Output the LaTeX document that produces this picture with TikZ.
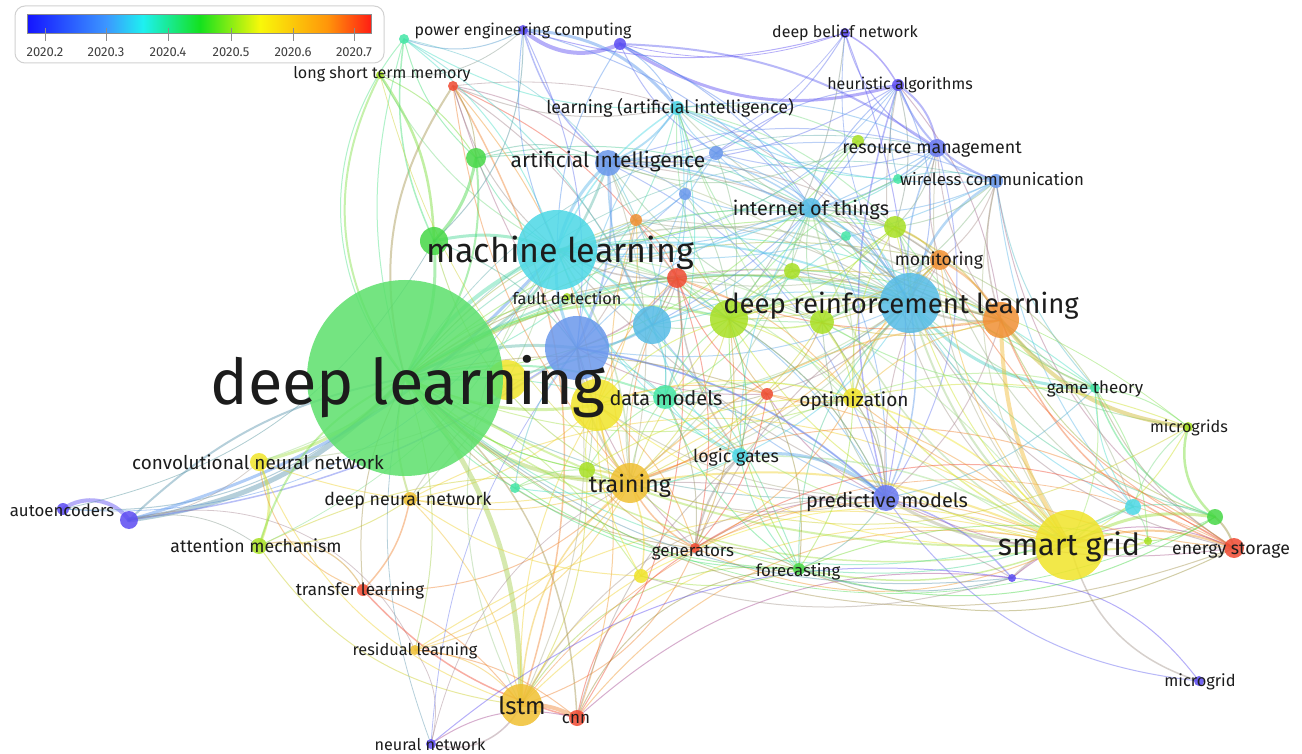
\documentclass[tikz,border=0pt]{standalone}
\usepackage{fontspec}
\setmainfont{Fira Sans}
\definecolor{kP}{HTML}{5C4CF2}
\definecolor{kPB}{HTML}{6878F0}
\definecolor{kB}{HTML}{6A98EC}
\definecolor{kLB}{HTML}{56BCE6}
\definecolor{kC}{HTML}{4CD8E6}
\definecolor{kCG}{HTML}{44E6A6}
\definecolor{kG}{HTML}{46D846}
\definecolor{kYG}{HTML}{A8E024}
\definecolor{kY}{HTML}{F0E42A}
\definecolor{kYO}{HTML}{F0C032}
\definecolor{kO}{HTML}{F09034}
\definecolor{kR}{HTML}{F04A32}
\definecolor{kDL}{HTML}{5CE06C}
\definecolor{ktxt}{HTML}{1C1C1C}
\pgfdeclarelayer{paper}
\pgfdeclarelayer{bg}
\pgfdeclarelayer{fg}
\pgfsetlayers{paper,bg,main,fg}
\tikzset{
  kwnode/.style={circle, inner sep=0pt, draw=none, fill opacity=0.85},
  kwlbl/.style={anchor=base, inner sep=0pt, text=ktxt},
  kwedge/.style={draw opacity=0.45, line cap=round}
}
\newcommand\nd[5]{\colorlet{c#1}{#5}\node[kwnode, fill=#5, minimum size=#4*2pt] (#1) at (#2,#3) {};}
\newcommand\lb[5]{\node[kwlbl, font=\fontsize{#4}{#4}\selectfont] (#1-l) at (#2,#3) {#5};}
\newcommand\lk[4]{\draw[kwedge, line width=#3pt, draw=c#1!50!c#2] (#1.center) to[bend left={1.6*(#4)}] (#2.center);}
\begin{document}
\begin{tikzpicture}[x=1pt,y=-1pt]
\useasboundingbox (0,0) rectangle (1302,754);
\begin{pgfonlayer}{paper}
\fill[white] (0,0) rectangle (1302,754);
\end{pgfonlayer}
% ---------- nodes ----------
\nd{u21}{507}{380}{20}{kY}
\nd{dl}{405}{378}{98}{kDL}
\nd{ml}{557}{250}{40}{kC}
\nd{drl}{910}{303}{30}{kLB}
\nd{sg}{1070}{545}{35}{kY}
\nd{ai}{608}{163}{13}{kB}
\nd{iot}{811}{208}{10}{kLB}
\nd{dm}{665}{397}{12}{kCG}
\nd{opt}{853}{398}{10}{kY}
\nd{tr}{630}{483}{20}{kYO}
\nd{pm}{886}{498}{13}{kPB}
\nd{lg}{740}{456}{8}{kC}
\nd{fc}{799}{569}{6}{kG}
\nd{gen}{695}{548}{5}{kR}
\nd{mon}{940}{260}{10}{kO}
\nd{fd}{567}{297}{4}{kYG}
\nd{cnnw}{259}{462}{9}{kY}
\nd{dnn}{410}{499}{7}{kYO}
\nd{att}{259}{546}{8}{kYG}
\nd{tl}{363}{590}{6}{kR}
\nd{rl}{415}{650}{5}{kYO}
\nd{lstm}{521}{705}{21}{kYO}
\nd{cnn}{577}{718}{8}{kR}
\nd{nn}{431}{744}{5}{kP}
\nd{ae}{63}{509}{6}{kP}
\nd{es}{1234}{548}{10}{kR}
\nd{mgs}{1188}{427}{5}{kYG}
\nd{gt}{1095}{388}{5}{kCG}
\nd{mg}{1199}{681}{5}{kP}
\nd{wc}{996}{181}{7}{kB}
\nd{rm}{937}{148}{9}{kPB}
\nd{ha}{898}{85}{6}{kP}
\nd{dbn}{845}{33}{5}{kP}
\nd{pec}{523}{30}{5}{kP}
\nd{lai}{677}{108}{7}{kC}
\nd{lstmem}{380}{75}{4}{kYG}
\nd{u1}{404}{39}{5}{kCG}
\nd{u2}{620}{44}{6}{kP}
\nd{u3}{453}{86}{5}{kR}
\nd{u4}{476}{158}{10}{kG}
\nd{u5}{716}{153}{7}{kB}
\nd{u6}{685}{194}{6}{kB}
\nd{u7}{636}{220}{6}{kO}
\nd{u8}{434}{241}{14}{kG}
\nd{u9}{677}{278}{10}{kR}
\nd{u10}{652}{325}{19}{kLB}
\nd{u11}{577}{348}{32}{kB}
\nd{u12}{729}{319}{19}{kYG}
\nd{u13}{822}{322}{12}{kYG}
\nd{u14}{792}{271}{8}{kYG}
\nd{u15}{846}{236}{5}{kCG}
\nd{u16}{895}{227}{11}{kYG}
\nd{u17}{898}{179}{5}{kCG}
\nd{u18}{858}{141}{6}{kYG}
\nd{u19}{1001}{320}{18}{kO}
\nd{u20}{597}{405}{26}{kY}
\nd{u22}{587}{470}{8}{kYG}
\nd{u23}{515}{488}{5}{kCG}
\nd{u24}{641}{576}{7}{kY}
\nd{u25}{767}{394}{6}{kR}
\nd{u26}{1133}{507}{8}{kC}
\nd{u27}{1215}{517}{8}{kG}
\nd{u28}{1148}{541}{4}{kYG}
\nd{u29}{1012}{578}{4}{kP}
\nd{u30}{129}{520}{9}{kP}
% ---------- edges ----------
\begin{pgfonlayer}{bg}
\lk{ae}{u30}{4}{28}
\lk{ae}{ml}{0.8}{-20}
\lk{ae}{u8}{0.8}{-15}
\lk{ae}{dl}{1}{-15}
\lk{u30}{dl}{5}{-12}
\lk{u30}{dl}{2}{10}
\lk{u30}{ml}{3}{-10}
\lk{u30}{u11}{1.5}{-8}
\lk{u30}{rl}{0.8}{25}
\lk{u30}{cnnw}{0.8}{-10}
\lk{u30}{att}{0.8}{15}
\lk{cnnw}{dl}{3}{-10}
\lk{cnnw}{att}{2.5}{15}
\lk{cnnw}{tl}{1}{-20}
\lk{cnnw}{ml}{1}{-10}
\lk{cnnw}{u11}{1}{-10}
\lk{cnnw}{tr}{1}{-10}
\lk{cnnw}{lstm}{1}{-15}
\lk{att}{dl}{2}{15}
\lk{att}{tl}{1.2}{25}
\lk{att}{dnn}{1}{-10}
\lk{att}{lstm}{1}{-15}
\lk{att}{tr}{1}{10}
\lk{att}{ml}{0.8}{-12}
\lk{tl}{dnn}{1.5}{-10}
\lk{tl}{dl}{1}{10}
\lk{tl}{cnn}{1.5}{-10}
\lk{tl}{lstm}{1}{10}
\lk{tl}{tr}{1}{-15}
\lk{dnn}{dl}{2}{10}
\lk{dnn}{lstm}{1}{10}
\lk{dnn}{tr}{1}{-10}
\lk{dnn}{u20}{1}{-10}
\lk{dnn}{u11}{1}{10}
\lk{dnn}{ml}{1}{-10}
\lk{dnn}{sg}{1}{20}
\lk{rl}{dl}{1}{-10}
\lk{rl}{lstm}{1}{15}
\lk{rl}{sg}{1}{15}
\lk{rl}{tr}{1}{-10}
\lk{rl}{cnn}{1}{10}
\lk{nn}{dl}{0.8}{10}
\lk{nn}{lstm}{1.5}{-25}
\lk{nn}{rl}{0.8}{-15}
\lk{nn}{u11}{0.8}{10}
\lk{nn}{cnn}{1}{15}
\lk{lstm}{dl}{5}{-12}
\lk{lstm}{cnn}{4}{10}
\lk{lstm}{tr}{1.5}{15}
\lk{lstm}{sg}{1}{18}
\lk{lstm}{gen}{1}{-15}
\lk{lstm}{ml}{1}{20}
\lk{lstm}{u11}{1}{-10}
\lk{lstm}{u20}{1}{10}
\lk{lstm}{u22}{1}{-10}
\lk{lstm}{u24}{1}{10}
\lk{lstm}{fc}{1}{20}
\lk{lstm}{pm}{1}{20}
\lk{lstm}{es}{0.8}{25}
\lk{lstm}{u3}{1.5}{-15}
\lk{cnn}{gen}{1}{15}
\lk{cnn}{u9}{1}{-12}
\lk{cnn}{dl}{1.5}{-15}
\lk{cnn}{u29}{1}{15}
\lk{cnn}{sg}{1}{20}
\lk{cnn}{u20}{1}{-10}
\lk{cnn}{fc}{1}{20}
\lk{cnn}{lg}{1}{10}
\lk{dl}{ml}{4}{10}
\lk{dl}{u8}{3}{-10}
\lk{dl}{u4}{2}{-15}
\lk{dl}{tr}{4}{-15}
\lk{dl}{u11}{3}{10}
\lk{dl}{u10}{2}{-10}
\lk{dl}{u12}{2}{15}
\lk{dl}{u20}{3}{-10}
\lk{dl}{dm}{2}{10}
\lk{dl}{ai}{2.5}{-15}
\lk{dl}{drl}{2}{15}
\lk{dl}{sg}{1.5}{-15}
\lk{dl}{pm}{1}{-10}
\lk{dl}{lg}{1}{10}
\lk{dl}{opt}{1}{-12}
\lk{dl}{iot}{1}{15}
\lk{dl}{u9}{1}{10}
\lk{dl}{lstmem}{2}{20}
\lk{dl}{fd}{1}{10}
\lk{dl}{u22}{1}{-10}
\lk{dl}{gen}{1}{-15}
\lk{dl}{fc}{1}{-15}
\lk{dl}{mon}{1}{15}
\lk{dl}{lai}{1}{-20}
\lk{dl}{u3}{2}{15}
\lk{dl}{es}{1}{-20}
\lk{dl}{gt}{1}{20}
\lk{dl}{mgs}{0.8}{22}
\lk{dl}{wc}{0.8}{20}
\lk{dl}{rm}{0.8}{22}
\lk{dl}{u16}{1}{15}
\lk{dl}{u13}{1}{15}
\lk{dl}{u19}{1.5}{15}
\lk{dl}{u26}{1}{-20}
\lk{dl}{u27}{0.8}{-22}
\lk{dl}{u1}{1}{25}
\lk{u8}{lstmem}{2.5}{-10}
\lk{u8}{u1}{1.5}{10}
\lk{u8}{ml}{3}{10}
\lk{u8}{u4}{3}{-10}
\lk{u8}{tr}{1}{-15}
\lk{u8}{u11}{1}{10}
\lk{u4}{ml}{1}{-10}
\lk{u4}{ai}{1}{15}
\lk{u4}{u3}{1}{-10}
\lk{u4}{drl}{1}{15}
\lk{u4}{iot}{1}{12}
\lk{u3}{ml}{1}{-10}
\lk{u3}{u9}{1}{10}
\lk{u3}{tr}{1}{-10}
\lk{u3}{u20}{1}{10}
\lk{u3}{drl}{0.8}{20}
\lk{u3}{lai}{1}{-10}
\lk{u3}{ai}{1}{10}
\lk{u3}{u10}{1}{10}
\lk{u3}{u11}{1}{-5}
\lk{u1}{pec}{1}{-15}
\lk{u1}{ml}{1}{10}
\lk{u1}{dl}{1}{-10}
\lk{u1}{u4}{1}{-10}
\lk{u1}{ai}{0.8}{12}
\lk{u1}{lai}{1}{-10}
\lk{u1}{u10}{1}{10}
\lk{lstmem}{ml}{1}{-10}
\lk{lstmem}{u4}{1}{10}
\lk{lstmem}{tr}{0.8}{-10}
\lk{pec}{u2}{4}{-20}
\lk{pec}{lai}{3}{15}
\lk{pec}{ai}{1.5}{-10}
\lk{pec}{u11}{1}{10}
\lk{pec}{u8}{1}{15}
\lk{pec}{lstmem}{0.8}{15}
\lk{pec}{dbn}{1}{-10}
\lk{pec}{ml}{1}{-10}
\lk{pec}{iot}{1}{10}
\lk{u2}{ha}{3}{-15}
\lk{u2}{rm}{2}{10}
\lk{u2}{u5}{1}{-10}
\lk{u2}{lai}{1}{10}
\lk{u2}{dbn}{0.8}{-10}
\lk{u2}{iot}{1}{10}
\lk{u2}{ml}{1}{-10}
\lk{u2}{drl}{1}{10}
\lk{dbn}{ha}{1.5}{10}
\lk{dbn}{rm}{1}{-15}
\lk{dbn}{u12}{1}{10}
\lk{dbn}{ai}{0.8}{15}
\lk{dbn}{drl}{0.8}{-12}
\lk{dbn}{u5}{1}{10}
\lk{dbn}{pm}{1}{10}
\lk{ha}{rm}{2}{15}
\lk{ha}{wc}{2}{-15}
\lk{ha}{u16}{1}{10}
\lk{ha}{u10}{1}{10}
\lk{ha}{iot}{1}{-10}
\lk{ha}{drl}{1}{15}
\lk{ha}{pm}{1.5}{-10}
\lk{ha}{ml}{0.8}{15}
\lk{ha}{u17}{1}{-10}
\lk{ha}{u19}{1}{10}
\lk{ha}{sg}{1}{-20}
\lk{ha}{ai}{1}{10}
\lk{ha}{u5}{1}{-10}
\lk{rm}{wc}{2}{-15}
\lk{rm}{iot}{1.5}{10}
\lk{rm}{drl}{1.5}{-10}
\lk{rm}{u18}{1}{10}
\lk{rm}{pm}{1}{15}
\lk{rm}{ml}{1}{10}
\lk{rm}{ai}{1}{-10}
\lk{rm}{u16}{1}{10}
\lk{rm}{u19}{1}{-10}
\lk{rm}{sg}{1}{-15}
\lk{rm}{u17}{1}{10}
\lk{rm}{mon}{1}{-10}
\lk{wc}{drl}{2.5}{-15}
\lk{wc}{iot}{1}{10}
\lk{wc}{u17}{1}{-10}
\lk{wc}{sg}{1}{-15}
\lk{wc}{mon}{1}{10}
\lk{wc}{ml}{1}{10}
\lk{wc}{u16}{1}{10}
\lk{wc}{u19}{1.5}{-10}
\lk{wc}{gt}{1}{-10}
\lk{wc}{u26}{1}{-10}
\lk{wc}{es}{1}{-15}
\lk{wc}{u13}{1}{10}
\lk{lai}{ai}{2}{10}
\lk{lai}{ml}{1.5}{-10}
\lk{lai}{iot}{1}{10}
\lk{lai}{u5}{1}{-10}
\lk{lai}{u6}{1}{10}
\lk{lai}{drl}{1.5}{15}
\lk{lai}{u11}{1}{-10}
\lk{lai}{wc}{1}{-10}
\lk{lai}{dm}{1}{10}
\lk{lai}{u10}{1}{10}
\lk{lai}{u12}{1}{-10}
\lk{lai}{u18}{1}{10}
\lk{lai}{u17}{1}{-10}
\lk{lai}{rm}{1}{10}
\lk{lai}{mon}{1}{-10}
\lk{lai}{sg}{1}{-15}
\lk{lai}{u16}{1}{10}
\lk{lai}{u13}{1}{-10}
\lk{ai}{ml}{3}{-10}
\lk{ai}{u11}{2}{10}
\lk{ai}{iot}{1.5}{15}
\lk{ai}{drl}{1.5}{15}
\lk{ai}{u5}{1}{-10}
\lk{ai}{u6}{1}{10}
\lk{ai}{u10}{1.5}{-10}
\lk{ai}{tr}{1}{10}
\lk{ai}{sg}{1}{15}
\lk{ai}{mon}{1}{12}
\lk{ai}{u12}{1}{-10}
\lk{ai}{u19}{1}{10}
\lk{ai}{u13}{1}{-10}
\lk{ai}{pm}{1}{15}
\lk{ai}{dm}{1}{10}
\lk{u5}{iot}{1}{-10}
\lk{u5}{ml}{1}{10}
\lk{u5}{drl}{1}{10}
\lk{u5}{u10}{1}{-10}
\lk{u5}{u12}{1}{10}
\lk{u5}{rm}{1}{-10}
\lk{u5}{wc}{1}{10}
\lk{u6}{ml}{1}{10}
\lk{u6}{iot}{1}{-10}
\lk{u6}{u11}{1}{-10}
\lk{u6}{u10}{1}{10}
\lk{u6}{drl}{1}{-10}
\lk{u6}{u12}{1}{10}
\lk{u7}{ml}{1}{10}
\lk{u7}{dl}{1}{-10}
\lk{u7}{drl}{1}{10}
\lk{u7}{u9}{1}{10}
\lk{u7}{iot}{1}{-10}
\lk{u7}{u11}{1}{10}
\lk{u7}{tr}{1}{-10}
\lk{u7}{u12}{1}{10}
\lk{u7}{u20}{1}{10}
\lk{ml}{u10}{2}{10}
\lk{ml}{u11}{3}{-10}
\lk{ml}{u12}{1.5}{10}
\lk{ml}{drl}{2}{10}
\lk{ml}{iot}{1.5}{-10}
\lk{ml}{u9}{1.5}{-10}
\lk{ml}{tr}{1.5}{10}
\lk{ml}{dm}{1}{-10}
\lk{ml}{pm}{1}{15}
\lk{ml}{sg}{1}{15}
\lk{ml}{mon}{1}{-10}
\lk{ml}{lg}{1}{-12}
\lk{ml}{u19}{1.5}{15}
\lk{ml}{es}{1}{-15}
\lk{ml}{gt}{1}{15}
\lk{ml}{u16}{1}{10}
\lk{ml}{opt}{1}{10}
\lk{ml}{fc}{1}{10}
\lk{ml}{u13}{1}{-10}
\lk{u9}{u10}{1}{10}
\lk{u9}{u12}{1}{-10}
\lk{u9}{u11}{1.5}{10}
\lk{u9}{tr}{1}{-10}
\lk{u9}{gen}{1}{10}
\lk{u9}{lg}{1.5}{-10}
\lk{u9}{drl}{1}{10}
\lk{u9}{u20}{1}{-10}
\lk{u9}{opt}{1}{10}
\lk{u9}{dm}{1}{10}
\lk{u10}{u11}{2}{10}
\lk{u10}{u12}{1}{-10}
\lk{u10}{dm}{1}{10}
\lk{u10}{tr}{1}{-10}
\lk{u10}{drl}{1}{10}
\lk{u10}{pm}{1}{-10}
\lk{u11}{u20}{2}{-10}
\lk{u11}{dm}{1}{10}
\lk{u11}{tr}{2}{-10}
\lk{u11}{pm}{1}{10}
\lk{u11}{drl}{1}{-10}
\lk{u12}{drl}{2}{10}
\lk{u12}{u13}{1.5}{-10}
\lk{u12}{u14}{1}{10}
\lk{u12}{dm}{1}{-10}
\lk{u12}{opt}{1}{10}
\lk{u12}{sg}{1}{-15}
\lk{u12}{tr}{1}{10}
\lk{u12}{pm}{1}{10}
\lk{u12}{fc}{1}{-10}
\lk{u12}{u19}{1}{10}
\lk{u12}{lg}{1}{10}
\lk{u12}{u20}{1}{-10}
\lk{u13}{drl}{2}{10}
\lk{u13}{u14}{1}{-10}
\lk{u13}{opt}{1}{10}
\lk{u13}{sg}{1.5}{-10}
\lk{u13}{pm}{1}{10}
\lk{u13}{u19}{1}{-10}
\lk{u13}{u16}{1}{10}
\lk{u13}{tr}{1}{10}
\lk{u13}{gt}{1}{-10}
\lk{u14}{iot}{1}{10}
\lk{u14}{u16}{1}{-10}
\lk{u14}{dm}{1}{10}
\lk{u14}{u19}{1}{10}
\lk{u14}{tr}{1}{-10}
\lk{u16}{drl}{1.5}{10}
\lk{u16}{iot}{1}{-10}
\lk{u16}{mon}{1.5}{10}
\lk{u16}{sg}{1}{-10}
\lk{u16}{u12}{1}{10}
\lk{u16}{u19}{1.5}{10}
\lk{u16}{opt}{1}{-10}
\lk{u16}{gt}{1}{-10}
\lk{u15}{iot}{1}{10}
\lk{u15}{drl}{1}{-10}
\lk{u15}{u10}{1}{10}
\lk{u17}{iot}{1}{10}
\lk{u17}{u12}{1}{-10}
\lk{u18}{ai}{1}{15}
\lk{u18}{iot}{1}{-10}
\lk{u18}{ml}{1}{10}
\lk{u18}{dl}{1}{15}
\lk{iot}{u12}{1.5}{10}
\lk{iot}{u13}{1}{-10}
\lk{iot}{u10}{1}{10}
\lk{iot}{u11}{1}{-10}
\lk{iot}{sg}{1.5}{-15}
\lk{iot}{pm}{1}{10}
\lk{iot}{u19}{1}{-10}
\lk{iot}{opt}{1}{10}
\lk{iot}{tr}{1}{10}
\lk{drl}{mon}{2}{10}
\lk{drl}{u19}{2}{-10}
\lk{drl}{gt}{3}{-15}
\lk{drl}{sg}{2}{-10}
\lk{drl}{pm}{1.5}{10}
\lk{drl}{opt}{1.5}{-10}
\lk{drl}{u25}{1}{10}
\lk{drl}{u26}{1}{-10}
\lk{drl}{es}{1}{-15}
\lk{drl}{tr}{1}{10}
\lk{drl}{iot}{2}{-10}
\lk{drl}{dm}{1}{10}
\lk{drl}{u14}{1}{-10}
\lk{drl}{fc}{1}{-15}
\lk{drl}{lg}{1}{10}
\lk{drl}{u20}{1}{10}
\lk{drl}{gen}{1}{-10}
\lk{drl}{mgs}{1}{-10}
\lk{drl}{u27}{1}{-12}
\lk{mon}{u19}{2}{10}
\lk{mon}{sg}{1}{-10}
\lk{mon}{gt}{1}{10}
\lk{mon}{es}{1}{-10}
\lk{mon}{iot}{1.5}{-10}
\lk{mon}{tr}{1}{10}
\lk{mon}{u13}{1}{10}
\lk{mon}{opt}{1}{-10}
\lk{mon}{u12}{1}{10}
\lk{mon}{pm}{1}{-10}
\lk{mon}{u26}{1}{-10}
\lk{u19}{sg}{4}{-10}
\lk{u19}{mgs}{4}{-14}
\lk{u19}{gt}{1.5}{-10}
\lk{u19}{u27}{1}{-15}
\lk{u19}{pm}{1}{10}
\lk{u19}{opt}{1}{-10}
\lk{u19}{tr}{1.5}{-12}
\lk{u19}{u9}{1}{10}
\lk{u19}{iot}{1.5}{10}
\lk{u19}{u26}{1}{10}
\lk{u19}{es}{1.5}{-15}
\lk{gt}{sg}{1}{10}
\lk{gt}{u26}{1}{-10}
\lk{gt}{u27}{1.5}{-15}
\lk{gt}{es}{1}{-10}
\lk{gt}{mgs}{1}{10}
\lk{gt}{pm}{1}{10}
\lk{gt}{u28}{1}{10}
\lk{gt}{opt}{1}{-10}
\lk{mgs}{u27}{2.5}{-20}
\lk{mgs}{sg}{1}{10}
\lk{mgs}{u26}{1}{-10}
\lk{sg}{u26}{2}{10}
\lk{sg}{u27}{3}{12}
\lk{sg}{u28}{2}{-10}
\lk{sg}{es}{2}{12}
\lk{sg}{u29}{2}{-10}
\lk{sg}{pm}{3}{10}
\lk{sg}{mg}{1.5}{-18}
\lk{sg}{opt}{1.5}{-10}
\lk{sg}{tr}{2}{-10}
\lk{sg}{dm}{1}{10}
\lk{sg}{fc}{1.5}{10}
\lk{sg}{lg}{1.5}{-10}
\lk{sg}{dl}{2}{10}
\lk{sg}{u20}{1}{12}
\lk{sg}{gen}{1}{15}
\lk{u27}{es}{2}{10}
\lk{u27}{u26}{1}{-10}
\lk{u26}{u28}{1}{10}
\lk{u28}{u27}{1}{-10}
\lk{es}{u29}{1}{-20}
\lk{es}{pm}{1}{10}
\lk{u29}{pm}{1.5}{-10}
\lk{u29}{fc}{1}{10}
\lk{u29}{tr}{1}{-10}
\lk{u29}{u24}{1}{10}
\lk{u29}{nn}{1}{-15}
\lk{u29}{mg}{1}{15}
\lk{u29}{dl}{1}{15}
\lk{pm}{lg}{3}{-15}
\lk{pm}{fc}{1}{10}
\lk{pm}{opt}{1}{-10}
\lk{pm}{tr}{1}{10}
\lk{pm}{dm}{1}{-10}
\lk{pm}{u25}{1}{10}
\lk{pm}{u11}{2}{-10}
\lk{pm}{u20}{1}{10}
\lk{pm}{u12}{1}{-10}
\lk{pm}{u13}{1}{10}
\lk{pm}{mg}{1}{-15}
\lk{lg}{tr}{1}{10}
\lk{lg}{gen}{2}{-10}
\lk{lg}{dm}{1}{10}
\lk{lg}{fc}{1}{-10}
\lk{lg}{u10}{1}{10}
\lk{lg}{u12}{1}{-10}
\lk{lg}{iot}{1}{10}
\lk{gen}{tr}{1.5}{10}
\lk{gen}{u24}{1}{-10}
\lk{gen}{fc}{1}{10}
\lk{gen}{u20}{1}{-10}
\lk{gen}{es}{1}{20}
\lk{gen}{sg}{1}{15}
\lk{gen}{u25}{1}{-10}
\lk{gen}{u22}{1}{10}
\lk{gen}{u11}{1}{10}
\lk{gen}{u12}{1}{-10}
\lk{gen}{pm}{1}{10}
\lk{u25}{dm}{1}{10}
\lk{u25}{opt}{1}{-10}
\lk{u25}{tr}{1}{10}
\lk{u25}{u20}{1}{-10}
\lk{u25}{u11}{1}{10}
\lk{u25}{dl}{1}{-10}
\lk{u25}{sg}{1}{10}
\lk{u25}{u12}{1}{10}
\lk{u25}{u13}{1}{-10}
\lk{u25}{u9}{1}{10}
\lk{u25}{lg}{1}{-10}
\lk{u25}{fc}{1}{10}
\lk{tr}{u20}{2}{10}
\lk{tr}{u22}{2}{-10}
\lk{tr}{u24}{1.5}{10}
\lk{tr}{u23}{1}{-10}
\lk{tr}{dm}{1}{10}
\lk{tr}{fc}{1}{-10}
\lk{tr}{es}{1}{18}
\lk{tr}{mgs}{1}{-15}
\lk{tr}{rl}{1}{15}
\lk{tr}{nn}{0.8}{-15}
\lk{u22}{dl}{1}{10}
\lk{u22}{u23}{1}{-10}
\lk{u22}{u20}{1}{10}
\lk{u22}{u11}{1}{-10}
\lk{u23}{dl}{1}{10}
\lk{u23}{lg}{1}{-10}
\lk{u23}{u11}{1}{10}
\lk{u23}{fc}{1}{-10}
\lk{u24}{u20}{1}{10}
\lk{u24}{fc}{1}{-10}
\lk{u24}{dnn}{1}{10}
\lk{u24}{dl}{1}{-10}
\lk{u24}{sg}{1}{15}
\lk{dm}{opt}{1}{10}
\lk{dm}{u20}{1}{-10}
\lk{dm}{lg}{1}{10}
\lk{dm}{fc}{1}{-10}
\lk{dm}{gen}{1}{10}
\lk{dm}{u22}{1}{-10}
\lk{opt}{fc}{1}{10}
\lk{opt}{tr}{1}{-10}
\lk{opt}{pm}{1}{10}
\lk{opt}{lg}{1}{-10}
\lk{opt}{gen}{1}{10}
\lk{opt}{u22}{1}{-10}
\lk{opt}{mgs}{1}{10}
\lk{opt}{es}{1}{-10}
\lk{fc}{u27}{1}{-15}
\lk{fc}{u26}{1}{-10}
\lk{fc}{es}{1}{-15}
\lk{fc}{u28}{1}{10}
\lk{u20}{opt}{1}{10}
\end{pgfonlayer}
% ---------- labels ----------
\lb{dl}{408}{404}{63}{deep learning}
\lb{ml}{560}{263}{34}{machine learning}
\lb{drl}{901}{313}{27.5}{deep reinforcement learning}
\lb{sg}{1069}{555}{30.5}{smart grid}
\lb{ai}{608}{168}{21}{artificial intelligence}
\lb{iot}{811}{216}{19.8}{internet of things}
\lb{tr}{630}{492}{23.4}{training}
\lb{pm}{887}{507}{19.9}{predictive models}
\lb{dm}{666}{405}{20}{data models}
\lb{opt}{854}{406}{19}{optimization}
\lb{cnnw}{258}{469}{18.9}{convolutional neural network}
\lb{lstm}{522}{714}{24}{lstm}
\lb{lg}{736}{462}{17.8}{logic gates}
\lb{fc}{798}{576}{16.8}{forecasting}
\lb{gen}{693}{556}{17}{generators}
\lb{mon}{939}{266}{17.6}{monitoring}
\lb{fd}{567}{305}{16.3}{fault detection}
\lb{dnn}{408}{505}{17.8}{deep neural network}
\lb{att}{256}{552}{17.7}{attention mechanism}
\lb{tl}{360}{595}{17}{transfer learning}
\lb{rl}{415}{655}{16.3}{residual learning}
\lb{cnn}{576}{723}{17}{cnn}
\lb{nn}{430}{750}{16.2}{neural network}
\lb{ae}{62}{516}{16.8}{autoencoders}
\lb{es}{1231}{554}{17.7}{energy storage}
\lb{mgs}{1189}{432}{16.2}{microgrids}
\lb{gt}{1095}{393}{17}{game theory}
\lb{mg}{1200}{686}{16.4}{microgrid}
\lb{wc}{992}{186}{16.8}{wireless communication}
\lb{rm}{932}{154}{17.8}{resource management}
\lb{ha}{900}{90}{16}{heuristic algorithms}
\lb{dbn}{845}{38}{16}{deep belief network}
\lb{pec}{523}{36}{16}{power engineering computing}
\lb{lai}{670}{114}{17.8}{learning (artificial intelligence)}
\lb{lstmem}{382}{79}{16.1}{long short term memory}
% ---------- legend ----------
\draw[draw=black!18, line width=1pt, fill=white, rounded corners=10pt] (15,6) rectangle (384,63);
\shade[left color={rgb,255:red,20;green,20;blue,255}, right color={rgb,255:red,60;green,150;blue,255}] (27,15) rectangle (106,34);
\shade[left color={rgb,255:red,60;green,150;blue,255}, right color={rgb,255:red,30;green,240;blue,240}] (106,15) rectangle (143,34);
\shade[left color={rgb,255:red,30;green,240;blue,240}, right color={rgb,255:red,20;green,225;blue,30}] (143,15) rectangle (200,34);
\shade[left color={rgb,255:red,20;green,225;blue,30}, right color={rgb,255:red,248;green,248;blue,10}] (200,15) rectangle (260,34);
\shade[left color={rgb,255:red,248;green,248;blue,10}, right color={rgb,255:red,255;green,150;blue,10}] (260,15) rectangle (327,34);
\shade[left color={rgb,255:red,255;green,150;blue,10}, right color={rgb,255:red,255;green,30;blue,20}] (327,15) rectangle (371,34);
\draw[draw=black!45, line width=1pt] (27,15) rectangle (371,34);
\foreach \tx/\tl in {45/2020.2,106/2020.3,168/2020.4,231/2020.5,293/2020.6,354/2020.7}{
  \draw[draw=black!45, line width=1pt] (\tx,28) -- (\tx,41);
  \node[anchor=base, inner sep=0pt, text=black!75, font=\fontsize{13}{13}\selectfont] (tick\tx) at (\tx,57) {\tl};
}
\end{tikzpicture}
\end{document}
